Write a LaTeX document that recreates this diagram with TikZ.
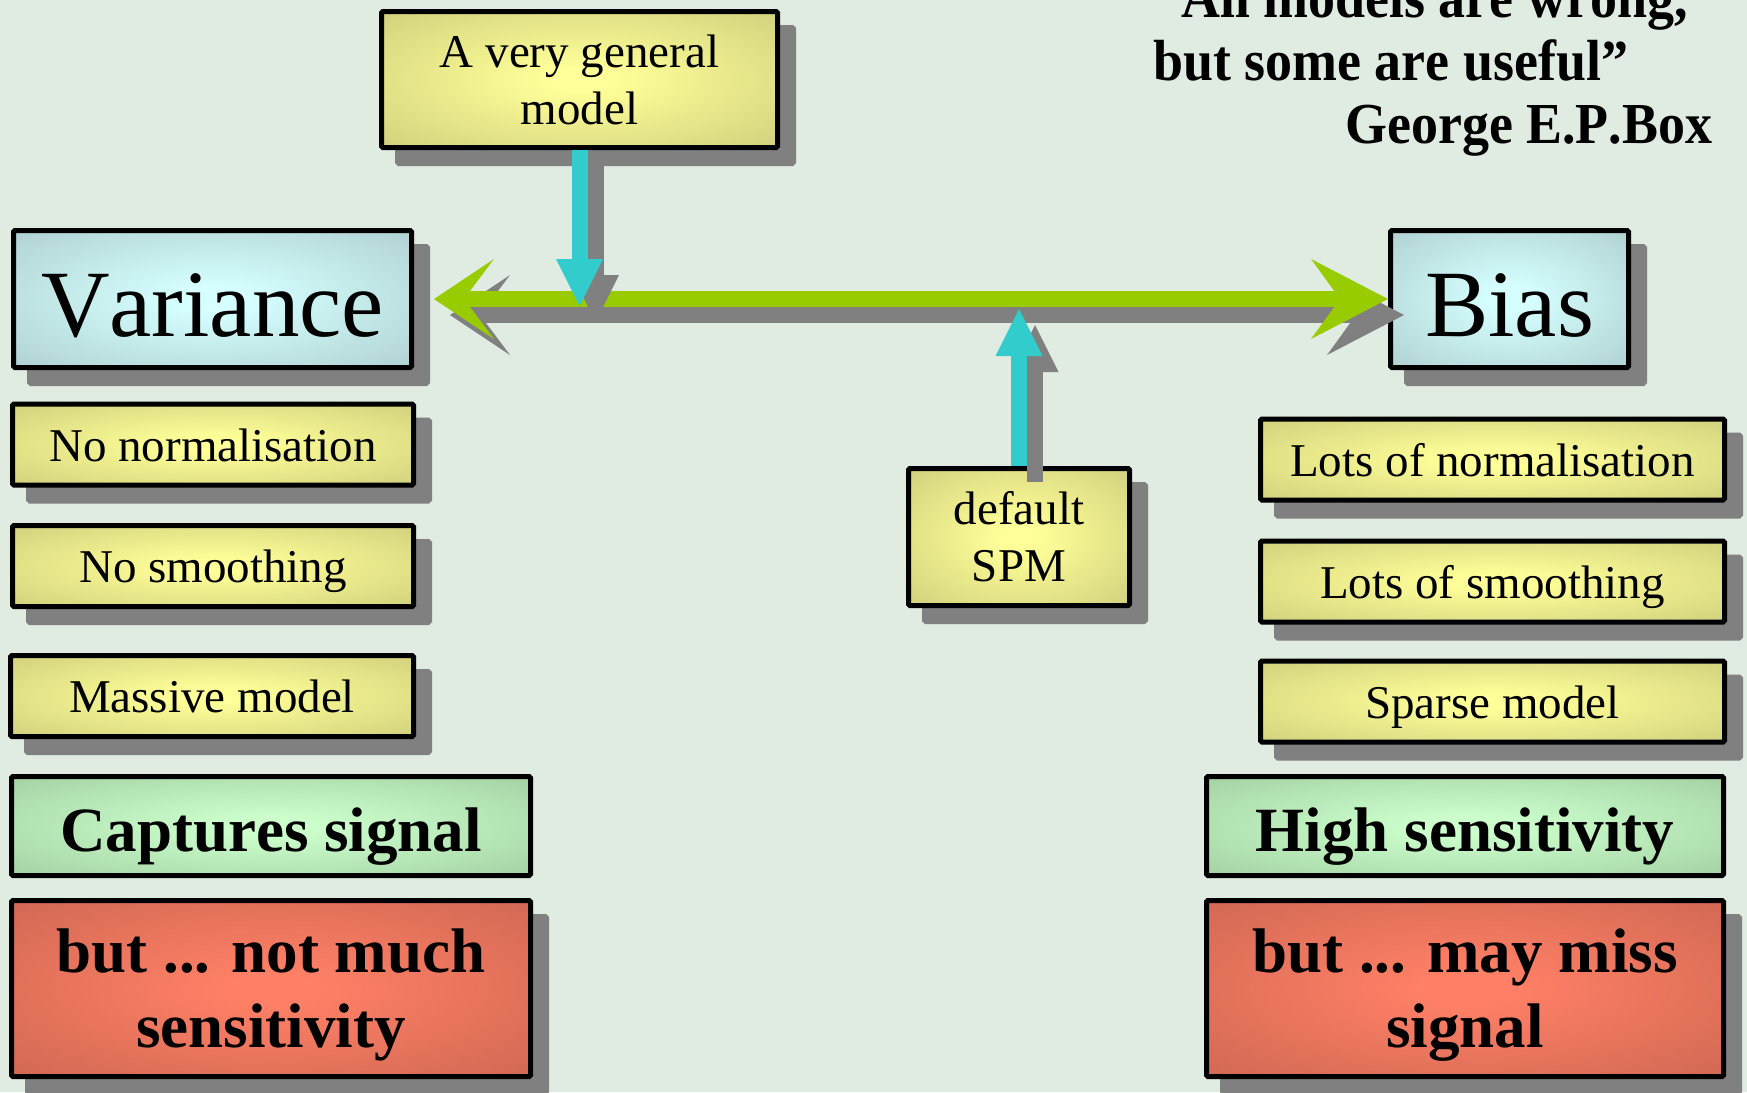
\documentclass[tikz,border=0pt]{standalone}
\usepackage{fontspec}
\setmainfont[Kerning=Off]{Liberation Serif}
\newfontfamily\quotefont[FakeStretch=0.93,Kerning=Off]{Liberation Serif}
\usetikzlibrary{arrows.meta,shadows,calc}

\definecolor{bgcol}{RGB}{224,235,226}
\definecolor{shadowgray}{RGB}{128,128,128}
\definecolor{arrowgreen}{RGB}{153,204,0}
\definecolor{arrowcyan}{RGB}{51,204,204}
\definecolor{yin}{RGB}{255,255,153}
\definecolor{yout}{RGB}{204,204,122}
\definecolor{bin}{RGB}{214,255,255}
\definecolor{bout}{RGB}{172,204,204}
\definecolor{gin}{RGB}{204,255,204}
\definecolor{gout}{RGB}{160,204,160}
\definecolor{rin}{RGB}{255,128,102}
\definecolor{rout}{RGB}{204,102,82}

% glowing box fills, bright in the middle and darker towards the border
\pgfdeclareradialshading{yglow}{\pgfpointorigin}{color(0bp)=(yin); color(4bp)=(yin); color(39bp)=(yout); color(100bp)=(yout)}
\pgfdeclareradialshading{bglow}{\pgfpointorigin}{color(0bp)=(bin); color(4bp)=(bin); color(39bp)=(bout); color(100bp)=(bout)}
\pgfdeclareradialshading{gglow}{\pgfpointorigin}{color(0bp)=(gin); color(4bp)=(gin); color(39bp)=(gout); color(100bp)=(gout)}
\pgfdeclareradialshading{rglow}{\pgfpointorigin}{color(0bp)=(rin); color(4bp)=(rin); color(39bp)=(rout); color(100bp)=(rout)}

\tikzset{
  box/.style={draw=black, line width=5pt, rounded corners=1.5pt, inner sep=0pt,
    align=center, text=black, shade},
  withshadow/.style={drop shadow={shadow xshift=16pt, shadow yshift=-16pt,
    fill=shadowgray, draw=shadowgray, line width=5pt, opacity=1}},
  oneline/.style={text height=42pt, text depth=9pt},
  ybox/.style={box, withshadow, shading=yglow, font=\fontsize{47}{57}\selectfont},
  bbox/.style={box, withshadow, shading=bglow, font=\fontsize{95}{100}\selectfont,
    text height=75pt, text depth=0pt},
  gbox/.style={box, shading=gglow, font=\bfseries\fontsize{63}{75}\selectfont,
    text height=60pt, text depth=10pt},
  rbox/.style={box, withshadow, shading=rglow, font=\bfseries\fontsize{63}{75}\selectfont},
  quote/.style={anchor=base west, inner sep=0pt, font=\quotefont\bfseries\fontsize{58}{63}\selectfont},
  greenarr/.style={line width=16pt,
    {Stealth[length=60pt,width=80pt,inset=30pt,line width=0pt]}-{Stealth[length=77pt,width=80pt,inset=29pt,line width=0pt]}},
  cyanarr/.style={line width=16pt, -{Triangle[length=47pt,width=47pt,line width=0pt]}},
  castshadow/.style={transform canvas={xshift=16pt,yshift=-16pt}, draw=shadowgray, fill=shadowgray}
}

\begin{document}
\begin{tikzpicture}[x=1pt,y=-1pt]
  \fill[bgcol] (0,0) rectangle (1747,1092);
  \useasboundingbox (0,0) rectangle (1747,1092);
  \clip (0,0) rectangle (1747,1092);

  % quotation, top right
  \node[quote] (q1) at (1181,17) {All models are wrong,};
  \node[quote] (q2) at (1153,80) {but some are useful”};
  \node[quote] (q3) at (1345,143) {George E.P.Box};

  % boxes
  \node[ybox, minimum width=396pt, minimum height=136pt] (gen) at (579.5,79.5) {A very general\\model};
  \node[bbox, minimum width=398pt, minimum height=137pt] (var) at (212.5,299) {Variance};
  \node[bbox, minimum width=238pt, minimum height=137pt] (bias) at (1509.5,299) {Bias};

  \node[ybox, oneline, minimum width=401pt, minimum height=81pt] (nonorm) at (213,444.5) {No normalisation};
  \node[ybox, oneline, minimum width=401pt, minimum height=81pt] (nosmooth) at (213,566) {No smoothing};
  \node[ybox, oneline, minimum width=403pt, minimum height=81pt] (massive) at (212,696) {Massive model};
  \node[gbox, minimum width=519pt, minimum height=99pt] (capt) at (271,826) {Captures signal};
  \node[rbox, minimum width=519pt, minimum height=176pt] (notmuch) at (271,988.5) {\rule{0pt}{57pt}but ... not much\\sensitivity};

  \node[ybox, oneline, minimum width=464pt, minimum height=81pt] (lotsnorm) at (1492.5,459.5) {Lots of normalisation};
  \node[ybox, oneline, minimum width=464pt, minimum height=81pt] (lotssmooth) at (1492.5,581.5) {Lots of smoothing};
  \node[ybox, oneline, minimum width=464pt, minimum height=81pt] (sparse) at (1492.5,701.5) {Sparse model};
  \node[gbox, minimum width=517pt, minimum height=99pt] (highsens) at (1465,826) {High sensitivity};
  \node[rbox, minimum width=517pt, minimum height=176pt] (maymiss) at (1465,988.5) {\rule{0pt}{57pt}but ... may miss\\signal};

  \node[ybox, minimum width=221pt, minimum height=137pt] (spm) at (1019,537) {default\\SPM};

  % arrow end points
  \coordinate (lefttip) at ($(var.east)+(20,0)$);
  \coordinate (downtip) at ($(gen.south |- var.east)+(0,7)$);
  \coordinate (uptip) at ($(spm.north |- var.east)+(0,10)$);

  % variance <-> bias axis
  \draw[greenarr, castshadow] (lefttip) -- (bias.west);
  \draw[greenarr, draw=arrowgreen, fill=arrowgreen] (lefttip) -- (bias.west);

  % model choices pointing at the axis
  \draw[cyanarr, castshadow] (gen.south) -- (downtip);
  \draw[cyanarr, castshadow] (spm.north) -- (uptip);
  \draw[cyanarr, draw=arrowcyan, fill=arrowcyan] (gen.south) -- (downtip);
  \draw[cyanarr, draw=arrowcyan, fill=arrowcyan] (spm.north) -- (uptip);
\end{tikzpicture}
\end{document}
